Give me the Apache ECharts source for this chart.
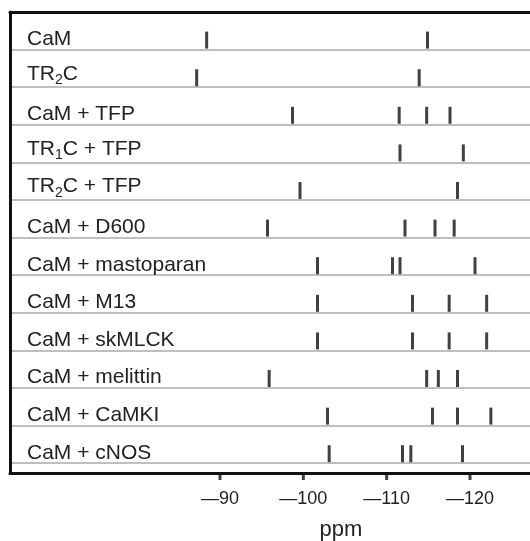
<!DOCTYPE html>
<html>
<head>
<meta charset="utf-8">
<script src="https://cdn.jsdelivr.net/npm/echarts@6.0.0/dist/echarts.min.js"></script>
<style>
  html, body { margin: 0; padding: 0; background: #fff; }
  #chart { width: 530px; height: 541px; }
</style>
</head>
<body>
<div id="chart"></div>
<script>
// row labels, top to bottom ("_n" = subscript n)
var rowNames = ['CaM', 'TR_2C', 'CaM + TFP', 'TR_1C + TFP', 'TR_2C + TFP', 'CaM + D600',
  'CaM + mastoparan', 'CaM + M13', 'CaM + skMLCK', 'CaM + melittin', 'CaM + CaMKI', 'CaM + cNOS'];

// 19F shifts (ppm), one array per row
var peaksCaM = [-88.4, -114.9];
var peaksTR2C = [-87.2, -113.9];
var peaksCaMTFP = [-98.7, -111.5, -114.8, -117.6];
var peaksTR1CTFP = [-111.6, -119.2];
var peaksTR2CTFP = [-99.6, -118.5];
var peaksD600 = [-95.7, -112.2, -115.8, -118.1];
var peaksMastoparan = [-101.7, -110.7, -111.6, -120.6];
var peaksM13 = [-101.7, -113.1, -117.5, -122.0];
var peaksSkMLCK = [-101.7, -113.1, -117.5, -122.0];
var peaksMelittin = [-95.9, -114.8, -116.2, -118.5];
var peaksCaMKI = [-102.9, -115.5, -118.5, -122.5];
var peaksCNOS = [-103.1, -111.9, -112.9, -119.1];

var xTicks = [-90, -100, -110, -120];

var allPeaks = [peaksCaM, peaksTR2C, peaksCaMTFP, peaksTR1CTFP, peaksTR2CTFP, peaksD600,
  peaksMastoparan, peaksM13, peaksSkMLCK, peaksMelittin, peaksCaMKI, peaksCNOS];

// row i sits on the separator at y = ROW0 + i + 1
var ROW0 = 10;
var Y_MAX = ROW0 + 12.26;
var points = [];
allPeaks.forEach(function (arr, i) {
  arr.forEach(function (v) { points.push([v, ROW0 + i + 1]); });
});
// little ticks under the bottom axis line
var tickPoints = xTicks.map(function (v) { return [v, Y_MAX]; });

// plain rows use style n, rows with a subscript use m + s
function richName(s) {
  var main = s.indexOf('_') >= 0 ? 'm' : 'n';
  return s.split(/(_\d)/).filter(function (p) { return p; }).map(function (p) {
    return p.charAt(0) === '_' ? '{s|' + p.charAt(1) + '}' : '{' + main + '|' + p + '}';
  }).join('');
}

var myChart = echarts.init(document.getElementById('chart'));
myChart.setOption({
  animation: false,
  grid: { left: 10, top: 12, right: 0, bottom: 68, outerBoundsMode: 'none' },
  xAxis: [{
    type: 'value',
    position: 'bottom',
    inverse: true,
    min: -127.2,
    max: -64.8,
    axisLine: { show: true, onZero: false, lineStyle: { color: '#111', width: 3 } },
    axisTick: { show: false },
    axisLabel: {
      customValues: xTicks,
      margin: 17,
      fontSize: 18,
      fontFamily: 'Liberation Sans',
      color: '#222',
      formatter: function (v) { return '\u2014' + Math.abs(v); }
    },
    splitLine: { show: false }
  }, {
    type: 'value',
    position: 'top',
    inverse: true,
    min: -127.2,
    max: -64.8,
    axisLine: { show: true, onZero: false, lineStyle: { color: '#111', width: 3 } },
    axisTick: { show: false },
    axisLabel: { show: false },
    splitLine: { show: false }
  }],
  yAxis: {
    type: 'value',
    inverse: true,
    min: ROW0,
    max: Y_MAX,
    interval: 1,
    axisLine: { show: true, onZero: false, lineStyle: { color: '#111', width: 3 } },
    axisTick: { show: false },
    splitLine: { show: true, lineStyle: { color: '#aaa', width: 1.5 } },
    axisLabel: {
      inside: true,
      margin: 17,
      verticalAlign: 'bottom',
      align: 'left',
      formatter: function (v) {
        var r = Math.round(v - ROW0);
        if (r >= 1 && r <= 12 && Math.abs(v - ROW0 - r) < 1e-6) return richName(rowNames[r - 1]);
        return '';
      },
      rich: {
        n: { fontSize: 21, lineHeight: 21, fontFamily: 'Liberation Sans', color: '#222' },
        m: { fontSize: 21, lineHeight: 27, fontFamily: 'Liberation Sans', color: '#222' },
        s: { fontSize: 14, lineHeight: 14, fontFamily: 'Liberation Sans', color: '#222', verticalAlign: 'top', padding: [13, 0, 0, 0] }
      }
    }
  },
  graphic: [{
    type: 'text',
    x: 341,
    y: 519,
    style: { text: 'ppm', fontSize: 22, fontFamily: 'Liberation Sans', fill: '#222', textAlign: 'center', textVerticalAlign: 'top' }
  }],
  series: [{
    type: 'scatter',
    data: points,
    symbol: 'rect',
    symbolSize: [3, 17],
    symbolOffset: [0, -9.5],
    itemStyle: { color: '#111' },
    silent: true
  }, {
    type: 'scatter',
    data: tickPoints,
    symbol: 'rect',
    symbolSize: [3, 6],
    symbolOffset: [0, 4],
    itemStyle: { color: '#111' },
    clip: false,
    silent: true
  }]
});
window.onresize = function () { myChart.resize(); };
</script>
</body>
</html>
